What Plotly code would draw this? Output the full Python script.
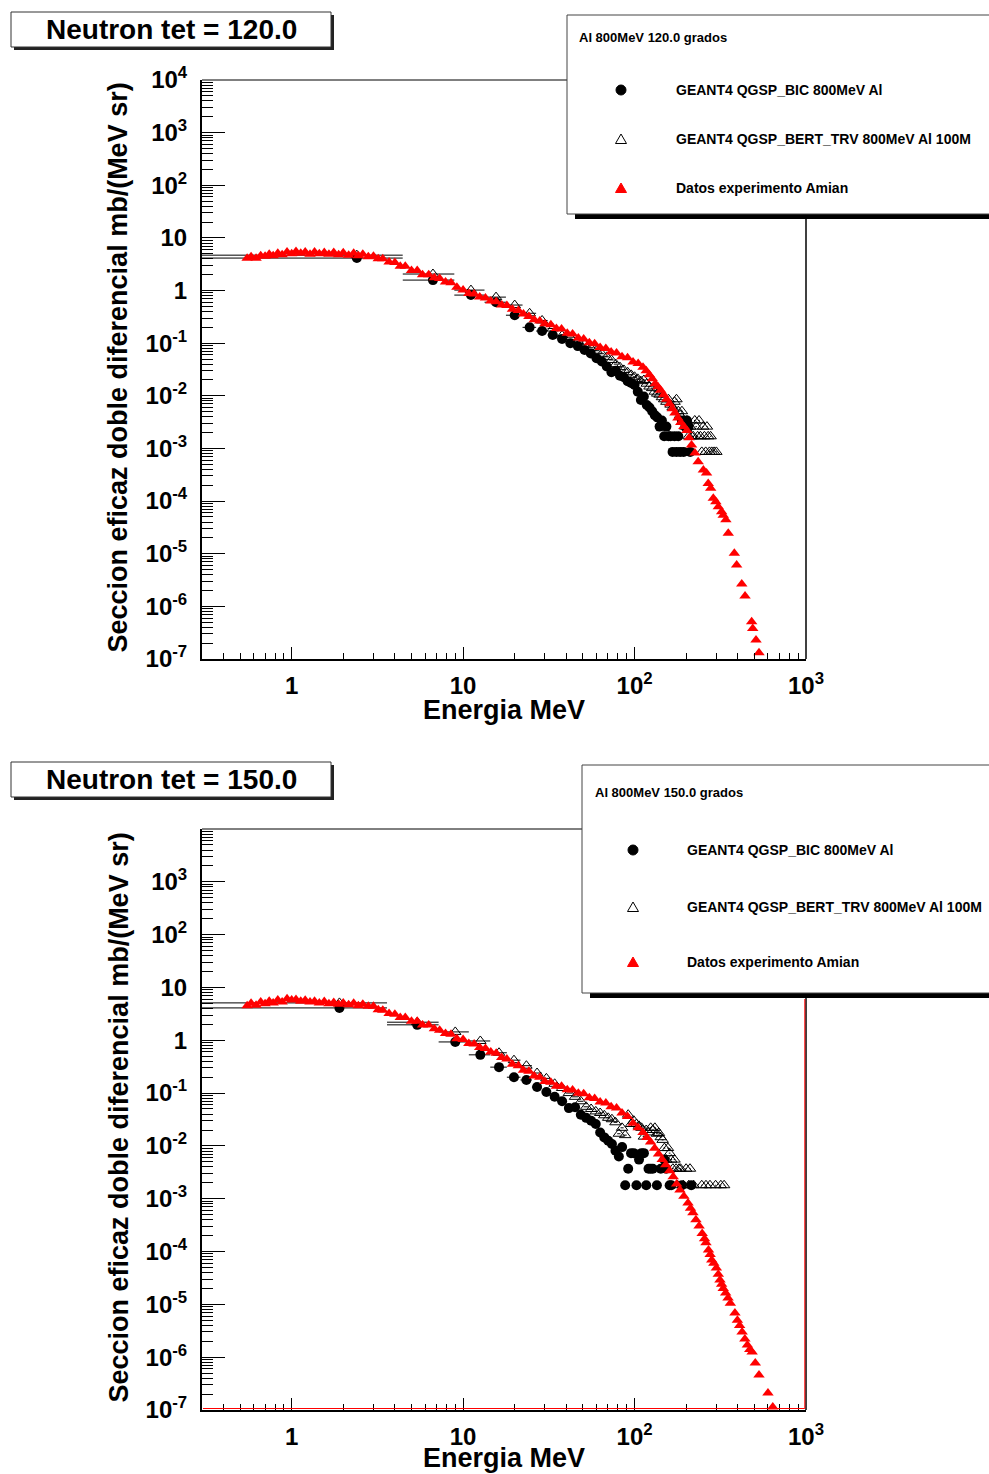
import plotly.graph_objects as go

W, H = 989, 1474

# ------------------------------------------------------------------ data
# 120 degrees
amian_120_E = [0.55, 0.58, 0.62, 0.66, 0.70, 0.74, 0.78, 0.83, 0.88, 0.94, 1.00, 1.06, 1.13, 1.20, 1.28,
               1.36, 1.45, 1.55, 1.65, 1.76, 1.88, 2.00, 2.15, 2.30, 2.45, 2.60, 2.80, 3.00, 3.20, 3.40,
               3.70, 4.00, 4.30, 4.60, 5.00, 5.40, 5.80, 6.30, 6.80, 7.30, 7.90, 8.50, 9.20, 10.0, 10.8,
               11.6, 12.5, 13.5, 14.5, 15.6, 16.8, 18.0, 19.4, 21.0, 22.5, 24.2, 26.0, 28.0, 30.0, 32.5,
               35.0, 37.5, 40.5, 43.5, 47.0, 50.5, 54.5, 58.5, 63.0, 68.0, 73.0, 78.5, 84.5, 91.0, 98.0,
               105, 112, 117, 122, 127, 132, 137, 142, 148, 154, 160, 166, 172, 179, 186, 194, 202, 208,
               215, 225, 235, 252, 263, 269, 278, 288, 298, 308, 322, 329, 341, 352, 382, 394, 422, 441,
               482, 489, 511, 532]
amian_120_S = [4.1, 4.4, 4.1, 4.6, 4.5, 4.9, 4.6, 5.1, 4.8, 5.4, 5.0, 5.5, 5.1, 5.4, 4.9,
               5.4, 5.0, 5.3, 4.9, 5.3, 4.8, 5.2, 4.7, 5.1, 4.6, 4.9, 4.4, 4.5, 4.0, 4.0,
               3.5, 3.4, 2.9, 2.9, 2.4, 2.4, 2.0, 2.0, 1.75, 1.7, 1.45, 1.4, 1.15, 1.02, 0.88,
               0.86, 0.75, 0.72, 0.63, 0.61, 0.53, 0.52, 0.44, 0.42, 0.36, 0.32, 0.28, 0.265, 0.235, 0.225,
               0.19, 0.185, 0.155, 0.15, 0.126, 0.12, 0.102, 0.098, 0.083, 0.079, 0.068, 0.065, 0.055, 0.053, 0.044,
               0.041, 0.035, 0.030, 0.025, 0.021, 0.017, 0.0148, 0.0127, 0.0105, 0.0086, 0.0071, 0.0057, 0.0047, 0.0038, 0.0031, 0.0026, 0.0022, 0.0016,
               0.00116, 0.00082, 0.00056, 0.00039, 0.00034, 0.000217, 0.000175, 0.000113, 0.000097, 0.000078, 0.000063, 0.000054, 0.000044, 0.0000244, 0.0000102, 0.0000061, 0.00000266, 0.00000157,
               5.1e-7, 3.8e-7, 2.29e-7, 1.32e-7]

bic_120_E = [2.4, 6.67, 11.11, 15.56, 20.0, 24.44, 28.89, 33.33, 37.78, 42.22, 46.67, 51.11, 55.56, 60.0,
             64.44, 68.89, 73.33, 77.78, 82.22, 86.67, 91.11, 95.56, 100.0, 104.44, 108.89, 113.33, 117.78,
             122.22, 126.67, 131.11, 135.56, 140.0, 144.44, 148.89, 153.33, 157.78, 162.22, 166.67, 171.11,
             175.56, 180.0, 184.44, 188.89, 193.33, 197.78, 202.22, 206.67, 211.11]
bic_120_S = [4.14, 1.58, 0.82, 0.60, 0.34, 0.20, 0.17, 0.143, 0.12, 0.10, 0.088, 0.074, 0.064, 0.052,
             0.045, 0.036, 0.028, 0.030, 0.024, 0.0226, 0.019, 0.0175, 0.016, 0.012, 0.0083, 0.0097, 0.0067,
             0.0060, 0.0051, 0.0043, 0.0039, 0.0026, 0.0034, 0.0017, 0.0026, 0.0017, 0.0017, 0.00086, 0.0017,
             0.00086, 0.0017, 0.00086, 0.0034, 0.00086, 0.0026, 0.0034, 0.0026, 0.00086]

bert_120_E = [2.4, 6.67, 11.11, 15.56, 20.0, 24.44, 28.89, 33.33, 37.78, 42.22, 46.67, 51.11, 55.56, 60.0,
              64.44, 68.89, 73.33, 77.78, 82.22, 86.67, 91.11, 95.56, 100.0, 104.44, 108.89, 113.33, 117.78,
              122.22, 126.67, 131.11, 135.56, 140.0, 144.44, 148.89, 153.33, 157.78, 162.22, 166.67, 171.11,
              175.56, 180.0, 184.44, 188.89, 193.33, 197.78, 202.22, 206.67, 211.11, 215.56, 220.0, 224.44,
              228.89, 233.33, 237.78, 242.22, 246.67, 251.11, 255.56, 260.0, 264.44, 268.89, 273.33, 277.78,
              282.22, 291.11, 300.0]
bert_120_S = [4.7, 2.06, 1.02, 0.75, 0.53, 0.37, 0.27, 0.19, 0.14, 0.13, 0.11, 0.095, 0.082, 0.072,
              0.063, 0.055, 0.048, 0.040, 0.035, 0.031, 0.028, 0.025, 0.023, 0.021, 0.019, 0.020, 0.017,
              0.015, 0.014, 0.012, 0.011, 0.0105, 0.0094, 0.0086, 0.0077, 0.0086, 0.0068, 0.0060, 0.0077,
              0.0086, 0.0051, 0.0043, 0.0051, 0.0034, 0.0026, 0.0034, 0.0017, 0.0026, 0.0017, 0.0017, 0.0034,
              0.0026, 0.0017, 0.0034, 0.0017, 0.00086, 0.0026, 0.0017, 0.00086, 0.0026, 0.0017, 0.00086, 0.0017,
              0.00086, 0.00086, 0.00086]
bin_width_120 = 4.444

# 150 degrees
amian_150_E = [0.55, 0.58, 0.62, 0.66, 0.70, 0.74, 0.78, 0.83, 0.88, 0.94, 1.00, 1.06, 1.13, 1.20, 1.28,
               1.36, 1.45, 1.55, 1.65, 1.76, 1.88, 2.00, 2.15, 2.30, 2.45, 2.60, 2.80, 3.00, 3.20, 3.40,
               3.70, 4.00, 4.30, 4.60, 5.00, 5.40, 5.80, 6.30, 6.80, 7.30, 7.90, 8.50, 9.20, 10.0, 10.8,
               11.6, 12.5, 13.5, 14.5, 15.6, 16.8, 18.0, 19.4, 21.0, 22.5, 24.2, 26.0, 28.0, 30.0, 32.5,
               35.0, 37.5, 40.5, 43.5, 47.0, 50.5, 54.5, 58.5, 63.0, 68.0, 73.0, 78.5, 84.5, 91.0, 98.0,
               105, 112, 118, 124, 131, 138, 145, 152, 160, 168, 176, 184, 194, 205, 212, 219, 228, 238,
               248, 256, 261, 270, 276, 282, 290, 300, 308, 315, 322, 329, 340, 351, 362, 385, 398, 410,
               424, 440, 455, 470, 485, 506, 532, 600, 640]
amian_150_S = [4.5, 5.0, 4.6, 5.3, 4.9, 5.5, 5.1, 5.8, 5.3, 6.1, 5.8, 5.9, 5.5, 5.7, 5.3,
               5.5, 5.1, 5.4, 4.9, 5.2, 4.8, 5.1, 4.7, 5.0, 4.5, 4.8, 4.4, 4.4, 3.8, 3.7,
               3.2, 3.1, 2.7, 2.7, 2.3, 2.3, 1.95, 1.95, 1.65, 1.55, 1.35, 1.3, 1.07, 1.03, 0.87,
               0.85, 0.73, 0.70, 0.60, 0.57, 0.47, 0.44, 0.35, 0.33, 0.27, 0.26, 0.21, 0.2, 0.165, 0.16,
               0.135, 0.135, 0.116, 0.114, 0.099, 0.097, 0.082, 0.079, 0.068, 0.065, 0.055, 0.052, 0.042, 0.036, 0.027,
               0.022, 0.018, 0.0145, 0.0118, 0.0090, 0.0070, 0.0055, 0.0044, 0.0034, 0.0026, 0.0019, 0.00147, 0.00112, 0.00083, 0.00066, 0.00054, 0.00040, 0.000305,
               0.00022, 0.000175, 0.000146, 0.000107, 0.000088, 0.000069, 0.000060, 0.000049, 0.000037, 0.000029, 0.000024, 0.000020, 0.0000165, 0.0000132, 0.0000105, 0.0000069, 0.0000050, 0.0000040,
               0.0000030, 0.0000022, 0.0000017, 0.0000014, 0.00000126, 7.8e-7, 4.6e-7, 2.1e-7, 1.14e-7]

bic_150_E = [1.9, 5.4, 9.0, 12.6, 16.2, 19.8, 23.4, 27.0, 30.6, 34.2, 37.8, 41.4, 45.0, 48.6, 52.2, 55.8,
             59.4, 63.0, 66.6, 70.2, 73.8, 77.4, 81.0, 84.6, 88.2, 91.8, 95.4, 99.0, 102.6, 106.2, 109.8,
             113.4, 117.0, 120.6, 124.2, 127.8, 135.0, 142.2, 149.4, 153.0, 160.2, 163.8, 189.0, 214.2]
bic_150_S = [4.1, 1.96, 0.93, 0.53, 0.31, 0.20, 0.177, 0.13, 0.105, 0.085, 0.070, 0.052, 0.054, 0.039,
             0.034, 0.030, 0.026, 0.018, 0.0145, 0.0125, 0.0109, 0.0081, 0.0063, 0.0095, 0.0018, 0.0037,
             0.0073, 0.0073, 0.0018, 0.0055, 0.0073, 0.0073, 0.0018, 0.0037, 0.0037, 0.0037, 0.0018, 0.0037,
             0.0055, 0.0037, 0.0018, 0.0018, 0.0018, 0.0018]

bert_150_E = [1.9, 5.4, 9.0, 12.6, 16.2, 19.8, 23.4, 27.0, 30.6, 34.2, 37.8, 41.4, 45.0, 48.6, 52.2, 55.8,
              59.4, 63.0, 66.6, 70.2, 73.8, 77.4, 81.0, 84.6, 88.2, 91.8, 95.4, 99.0, 102.6, 106.2, 109.8,
              113.4, 117.0, 120.6, 124.2, 127.8, 131.4, 135.0, 138.6, 142.2, 145.8, 149.4, 153.0, 156.6,
              160.2, 163.8, 167.4, 171.0, 174.6, 178.2, 181.8, 185.4, 192.6, 199.8, 207.0, 210.6, 221.4,
              246.6, 261.0, 275.4, 297.0, 318.6, 333.0]
bert_150_S = [5.1, 2.2, 1.44, 0.97, 0.58, 0.42, 0.33, 0.24, 0.19, 0.15, 0.125, 0.10, 0.085, 0.07, 0.055,
              0.05, 0.045, 0.042, 0.038, 0.034, 0.032, 0.028, 0.017, 0.022, 0.016, 0.039, 0.026, 0.030, 0.026,
              0.024, 0.022, 0.015, 0.020, 0.018, 0.022, 0.020, 0.022, 0.017, 0.0176, 0.0146, 0.013, 0.0091,
              0.0055, 0.0091, 0.0073, 0.0055, 0.0037, 0.0055, 0.0037, 0.0018, 0.0037, 0.0037, 0.0018, 0.0037,
              0.0018, 0.0037, 0.0018, 0.0018, 0.0018, 0.0018, 0.0018, 0.0018, 0.0018]
bin_width_150 = 3.6

# tick labels
x_tick_vals = [1, 10, 100, 1000]
x_tick_labels = ["1", "10", "10<sup>2</sup>", "10<sup>3</sup>"]
y_tick_vals = [1e-7, 1e-6, 1e-5, 1e-4, 1e-3, 1e-2, 1e-1, 1, 10, 100, 1000, 10000]
y_tick_labels = ["10<sup>-7</sup>", "10<sup>-6</sup>", "10<sup>-5</sup>", "10<sup>-4</sup>", "10<sup>-3</sup>",
                 "10<sup>-2</sup>", "10<sup>-1</sup>", "1", "10", "10<sup>2</sup>", "10<sup>3</sup>", "10<sup>4</sup>"]

panel_titles = ["Neutron tet = 120.0", "Neutron tet = 150.0"]
legend_headers = ["Al 800MeV 120.0 grados", "Al 800MeV 150.0 grados"]
legend_names = ["GEANT4 QGSP_BIC 800MeV Al", "GEANT4 QGSP_BERT_TRV 800MeV Al 100M", "Datos experimento Amian"]
x_title = "Energia MeV"
y_title = "Seccion eficaz doble diferencial mb/(MeV sr)"

# ------------------------------------------------------------------ helpers
FONT = "Liberation Sans"


def X(px):
    return px / W


def Y(py):
    return 1 - py / H


def xerr(E, width):
    # bins of constant width; lowest bin starts at 0 (clipped by the log axis)
    half = width / 2.0
    plus = [round(width * (int(e / width) + 1) - e, 4) for e in E]
    minus = [min(half, e - 0.01) for e in E]
    return dict(type="data", symmetric=False, array=plus, arrayminus=minus,
                color="black", thickness=1, width=0)


fig = go.Figure()

panels = [
    dict(xa="x", ya="y", top=80, bottom=659,
         data=(bic_120_E, bic_120_S, bert_120_E, bert_120_S, amian_120_E, amian_120_S, bin_width_120),
         title_box=(11, 12, 331, 47), legend_box=(567, 15, 214), leg_hdr=(577, 38),
         leg_mark_x=621, leg_text_x=674, leg_rows=(90, 139, 188), xtitle_y=710, red_frame=False),
    dict(xa="x2", ya="y2", top=829, bottom=1410,
         data=(bic_150_E, bic_150_S, bert_150_E, bert_150_S, amian_150_E, amian_150_S, bin_width_150),
         title_box=(11, 762, 331, 797), legend_box=(582, 765, 993), leg_hdr=(593, 792),
         leg_mark_x=633, leg_text_x=685, leg_rows=(850, 907, 962), xtitle_y=1458, red_frame=True),
]

LEFT, RIGHT = 202, 806
shapes = []
annotations = []

y_minor = [k * 10.0 ** d for d in range(-7, 4) for k in range(2, 10)]
x_minor = [k * 10.0 ** d for d in range(-1, 3) for k in range(2, 10) if k * 10.0 ** d > 0.3]

for i, p in enumerate(panels):
    bE, bS, tE, tS, aE, aS, bw = p["data"]
    fig.add_trace(go.Scatter(x=bE, y=bS, mode="markers", xaxis=p["xa"], yaxis=p["ya"],
                             marker=dict(symbol="circle", size=10, color="black"),
                             error_x=xerr(bE, bw), showlegend=False, name=legend_names[0]))
    fig.add_trace(go.Scatter(x=tE, y=tS, mode="markers", xaxis=p["xa"], yaxis=p["ya"],
                             marker=dict(symbol="triangle-up-open", size=10, color="black",
                                         line=dict(width=1, color="black")),
                             error_x=xerr(tE, bw), showlegend=False, name=legend_names[1]))
    fig.add_trace(go.Scatter(x=aE, y=aS, mode="markers", xaxis=p["xa"], yaxis=p["ya"],
                             marker=dict(symbol="triangle-up", size=10, color="#ff0000", line=dict(width=0)),
                             showlegend=False, name=legend_names[2]))

    suffix = "" if i == 0 else "2"
    xdom = [X(LEFT), X(RIGHT)]
    ydom = [Y(p["bottom"]), Y(p["top"])]
    fig.update_layout(**{
        "xaxis" + suffix: dict(
            type="log", range=[-0.5229, 3], domain=xdom, anchor="y" + suffix, automargin=False,
            showgrid=False, zeroline=False, showline=True, linecolor="black", linewidth=2,
            ticks="inside", ticklen=12, tickwidth=1, tickcolor="black",
            tickmode="array", tickvals=x_tick_vals, ticktext=x_tick_labels,
            tickfont=dict(family=FONT, size=24, color="black", weight="bold"),
            ticklabelstandoff=4,
            minor=dict(ticks="inside", ticklen=6, tickwidth=1, tickcolor="black",
                       tickmode="array", tickvals=x_minor, showgrid=False),
        ),
        "yaxis" + suffix: dict(
            type="log", range=[-7, 4], domain=ydom, anchor="x" + suffix, automargin=False,
            showgrid=False, zeroline=False, showline=True, linecolor="black", linewidth=2,
            ticks="inside", ticklen=23, tickwidth=1, tickcolor="black",
            tickmode="array",
            tickvals=y_tick_vals if i == 0 else y_tick_vals[:-1],
            ticktext=y_tick_labels if i == 0 else y_tick_labels[:-1],
            tickfont=dict(family=FONT, size=24, color="black", weight="bold"),
            ticklabelstandoff=8,
            minor=dict(ticks="inside", ticklen=11, tickwidth=1, tickcolor="black",
                       tickmode="array", tickvals=y_minor, showgrid=False),
        ),
    })

    # top and right frame lines
    shapes.append(dict(type="line", xref="paper", yref="paper", x0=X(LEFT), x1=X(RIGHT),
                       y0=Y(p["top"]), y1=Y(p["top"]), line=dict(color="black", width=1), layer="above"))
    shapes.append(dict(type="line", xref="paper", yref="paper", x0=X(RIGHT), x1=X(RIGHT),
                       y0=Y(p["top"]), y1=Y(p["bottom"]), line=dict(color="black", width=1.5), layer="above"))
    if p["red_frame"]:
        shapes.append(dict(type="line", xref="paper", yref="paper", x0=X(RIGHT - 1.2), x1=X(RIGHT - 1.2),
                           y0=Y(p["top"] + 170), y1=Y(p["bottom"] - 1.5), line=dict(color="#ff0000", width=1),
                           layer="above"))
        shapes.append(dict(type="line", xref="paper", yref="paper", x0=X(LEFT + 1), x1=X(RIGHT - 1.2),
                           y0=Y(p["bottom"] - 1.5), y1=Y(p["bottom"] - 1.5), line=dict(color="#ff0000", width=1),
                           layer="above"))

    # title box with shadow
    x0, y0, x1, y1 = p["title_box"]
    shapes.append(dict(type="rect", xref="paper", yref="paper", x0=X(x0 + 3), x1=X(x1 + 3),
                       y0=Y(y0 + 3), y1=Y(y1 + 3), fillcolor="#222222", line=dict(width=0), layer="above"))
    shapes.append(dict(type="rect", xref="paper", yref="paper", x0=X(x0), x1=X(x1),
                       y0=Y(y0), y1=Y(y1), fillcolor="white", line=dict(color="#333333", width=1), layer="above"))
    annotations.append(dict(xref="paper", yref="paper", x=X((x0 + x1) / 2), y=Y((y0 + y1) / 2),
                            text=panel_titles[i], showarrow=False, xanchor="center", yanchor="middle",
                            font=dict(family=FONT, size=28, color="black", weight="bold")))

    # legend box with shadow
    lx0, ly0, ly1 = p["legend_box"]
    shapes.append(dict(type="rect", xref="paper", yref="paper", x0=X(lx0 + 8), x1=X(W + 10),
                       y0=Y(ly0 + 5), y1=Y(ly1 + 5), fillcolor="black", line=dict(width=0), layer="above"))
    shapes.append(dict(type="rect", xref="paper", yref="paper", x0=X(lx0), x1=X(W + 10),
                       y0=Y(ly0), y1=Y(ly1), fillcolor="white", line=dict(color="#444444", width=1), layer="above"))
    annotations.append(dict(xref="paper", yref="paper", x=X(p["leg_hdr"][0]), y=Y(p["leg_hdr"][1]),
                            text=legend_headers[i], showarrow=False, xanchor="left", yanchor="middle",
                            font=dict(family=FONT, size=13, color="black", weight="bold")))
    mx = p["leg_mark_x"]
    r0, r1, r2 = p["leg_rows"]
    shapes.append(dict(type="circle", xref="paper", yref="paper", x0=X(mx - 5), x1=X(mx + 5),
                       y0=Y(r0 - 5), y1=Y(r0 + 5), fillcolor="black", line=dict(color="black", width=1),
                       layer="above"))
    tri = lambda cx, cy: (f"M {X(cx - 5.5)} {Y(cy + 4.5)} L {X(cx + 5.5)} {Y(cy + 4.5)} "
                          f"L {X(cx)} {Y(cy - 5)} Z")
    shapes.append(dict(type="path", xref="paper", yref="paper", path=tri(mx, r1),
                       fillcolor="rgba(0,0,0,0)", line=dict(color="black", width=1), layer="above"))
    shapes.append(dict(type="path", xref="paper", yref="paper", path=tri(mx, r2),
                       fillcolor="#ff0000", line=dict(color="#ff0000", width=1), layer="above"))
    for name, row in zip(legend_names, p["leg_rows"]):
        annotations.append(dict(xref="paper", yref="paper", x=X(p["leg_text_x"]), y=Y(row),
                                text=name, showarrow=False, xanchor="left", yanchor="middle",
                                font=dict(family=FONT, size=14, color="black", weight="bold")))

    # axis titles
    annotations.append(dict(xref="paper", yref="paper", x=X(504), y=Y(p["xtitle_y"]),
                            text=x_title, showarrow=False, xanchor="center", yanchor="middle",
                            font=dict(family=FONT, size=27, color="black", weight="bold")))
    annotations.append(dict(xref="paper", yref="paper", x=X(118), y=Y((p["top"] + p["bottom"]) / 2 - 2),
                            text=y_title, showarrow=False, xanchor="center", yanchor="middle", textangle=-90,
                            font=dict(family=FONT, size=27, color="black", weight="bold")))

fig.update_layout(width=W, height=H, margin=dict(l=0, r=0, t=0, b=0, pad=0, autoexpand=False),
                  paper_bgcolor="white", plot_bgcolor="white",
                  shapes=shapes, annotations=annotations, showlegend=False)

fig.write_html("out.html")
